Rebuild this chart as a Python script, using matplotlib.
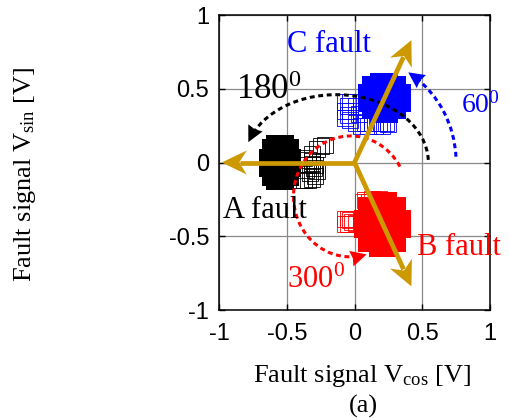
import numpy as np
import matplotlib
matplotlib.use("Agg")
import matplotlib.pyplot as plt
from matplotlib.patches import Arc, Polygon

plt.rcParams['mathtext.fontset'] = 'custom'
plt.rcParams['mathtext.rm'] = 'Liberation Serif'
plt.rcParams['mathtext.it'] = 'Liberation Serif:italic'
plt.rcParams['axes.unicode_minus'] = False

SERIF = 'Liberation Serif'
SANS = 'Liberation Sans'

# ---- fault signal trajectories (V_cos, V_sin) ----
# dense part of each trajectory (heavily overlapping samples)
a_core_x = [-0.50, -0.51, -0.547, -0.58, -0.60, -0.58, -0.547, -0.51]
a_core_y = [0.0, 0.065, 0.092, 0.065, 0.0, -0.065, -0.092, -0.065]
# sparse part (open squares)
a_trail_x = [-0.40, -0.37, -0.34, -0.31, -0.29, -0.28, -0.29, -0.31, -0.34,
             -0.37, -0.36, -0.33, -0.30, -0.31, -0.28, -0.25, -0.22, -0.34, -0.31]
a_trail_y = [-0.12, -0.12, -0.12, -0.11, -0.09, -0.06, -0.02, 0.01, 0.02,
             0.03, -0.05, -0.07, -0.04, 0.06, 0.09, 0.11, 0.12, -0.02, -0.01]

c_core_x = [0.31, 0.28, 0.22, 0.16, 0.13, 0.16, 0.22, 0.28, 0.22]
c_core_y = [0.44, 0.49, 0.515, 0.49, 0.44, 0.39, 0.365, 0.39, 0.44]
c_trail_x = [-0.07, -0.07, -0.07, -0.05, -0.05, -0.03, -0.03, -0.03, 0.01,
             0.01, 0.03, 0.05, 0.08, 0.10, 0.13, 0.15, 0.18, 0.20, 0.23, 0.25]
c_trail_y = [0.41, 0.35, 0.30, 0.38, 0.32, 0.41, 0.35, 0.29, 0.38,
             0.27, 0.33, 0.25, 0.27, 0.25, 0.27, 0.25, 0.27, 0.25, 0.27, 0.26]

b_core_x = [0.31, 0.28, 0.207, 0.13, 0.10, 0.13, 0.207, 0.28, 0.207]
b_core_y = [-0.42, -0.33, -0.295, -0.33, -0.42, -0.51, -0.545, -0.51, -0.42]
b_trail_x = [-0.07, -0.05, -0.07, -0.05, -0.03, -0.02, 0.01, 0.06, 0.08,
             0.11, 0.13, 0.16, 0.18, 0.20, 0.22]
b_trail_y = [-0.38, -0.38, -0.42, -0.42, -0.39, -0.40, -0.41, -0.27, -0.255,
             -0.27, -0.25, -0.27, -0.25, -0.27, -0.26]

# ---- phase vectors A, B, C ----
phasor_x = [-0.98, 0.42, 0.42]
phasor_y = [0.0, -0.84, 0.83]

# ---- rotation arcs: A (180), C (60), B (300) ----
arc_cx = [-0.135, 0.0, -0.03]
arc_cy = [0.0, 0.0, -0.23]
arc_rx = [0.68, 0.75, 0.42]
arc_ry = [0.46, 0.72, 0.41]
arc_t1 = [1.5, 3.0, 29.0]
arc_t2 = [168.0, 57.0, 287.0]

ticks = [-1, -0.5, 0, 0.5, 1]
tick_labels = ['-1', '-0.5', '0', '0.5', '1']

GOLD = '#CC9900'
BLUE = '#0000FF'
RED = '#FF0000'
arc_colors = ['black', BLUE, RED]

fig = plt.figure(figsize=(5.09, 4.19), dpi=100)
ax = fig.add_axes([219 / 509, 1 - 310 / 419, 271 / 509, 295 / 419])
ax.set_xlim(-1, 1)
ax.set_ylim(-1, 1)
ax.set_xticks(ticks)
ax.set_yticks(ticks)
ax.set_xticklabels(tick_labels, family=SANS, fontsize=17)
ax.set_yticklabels(tick_labels, family=SANS, fontsize=17)
ax.tick_params(direction='in', length=4, width=1, top=True, right=True,
               pad=7, colors='black')
ax.tick_params(axis='x', pad=9)
ax.grid(True, color='#8a8a8a', lw=0.9)
ax.set_axisbelow(True)
for s in ax.spines.values():
    s.set_linewidth(1.1)

# trajectories
for cx, cy, tx, ty, col in [(a_core_x, a_core_y, a_trail_x, a_trail_y, 'black'),
                            (c_core_x, c_core_y, c_trail_x, c_trail_y, BLUE),
                            (b_core_x, b_core_y, b_trail_x, b_trail_y, RED)]:
    ax.plot(tx, ty, 's', ms=11, mfc='none', mec=col, mew=0.6, zorder=2)
    ax.plot(cx, cy, 's', ms=20, mfc=col, mec=col, mew=0, zorder=3)


def draw_head(tip, prev, length, half_w, notch, color, z):
    tr = ax.transData
    t = tr.transform(tip)
    p = tr.transform(prev)
    u = t - p
    u = u / np.hypot(*u)
    n = np.array([-u[1], u[0]])
    pts = np.array([t, t - length * u + half_w * n,
                    t - notch * length * u, t - length * u - half_w * n])
    ax.add_patch(Polygon(tr.inverted().transform(pts), closed=True,
                         fc=color, ec='none', zorder=z))
    return tr.inverted().transform(t - 0.75 * length * u)


def ellipse_point(cx, cy, rx, ry, theta):
    th = np.deg2rad(theta)
    r = 1.0 / np.sqrt((np.cos(th) / rx) ** 2 + (np.sin(th) / ry) ** 2)
    return np.array([cx + r * np.cos(th), cy + r * np.sin(th)])


# rotation arcs with arrow heads
for cx, cy, rx, ry, t1, t2, col in zip(arc_cx, arc_cy, arc_rx, arc_ry,
                                       arc_t1, arc_t2, arc_colors):
    ax.add_patch(Arc((cx, cy), 2 * rx, 2 * ry, theta1=t1, theta2=t2 - 4,
                     color=col, lw=2.2, linestyle=(0, (1.6, 1.2)), zorder=4))
    tip = ellipse_point(cx, cy, rx, ry, t2)
    prev = ellipse_point(cx, cy, rx, ry, t2 - 4)
    draw_head(tip, prev, 16, 8, 0.9, col, 4)

# phase vectors
for px, py in zip(phasor_x, phasor_y):
    base = draw_head((px, py), (0, 0), 25, 12, 0.7, GOLD, 6)
    ax.plot([0, base[0]], [0, base[1]], color=GOLD, lw=3.4,
            solid_capstyle='butt', zorder=5)

# labels
ax.text(-0.495, 0.75, 'C fault', color=BLUE, family=SERIF, fontsize=22, zorder=7)
ax.text(-0.97, -0.376, 'A fault', color='black', family=SERIF, fontsize=22, zorder=7)
ax.text(0.458, -0.627, 'B fault', color=RED, family=SERIF, fontsize=22, zorder=7)
ax.text(-0.875, 0.43, r'180$^{0}$', color='black', family=SERIF, fontsize=25, zorder=7)
ax.text(0.787, 0.336, r'60$^{0}$', color=BLUE, family=SERIF, fontsize=20, zorder=7)
ax.text(-0.495, -0.851, r'300$^{0}$', color=RED, family=SERIF, fontsize=22, zorder=7)

fig.text(362.5 / 509, 1 - 382 / 419, r'Fault signal V$_{\mathrm{cos}}$ [V]',
         family=SERIF, fontsize=19, ha='center', va='baseline')
fig.text(363 / 509, 1 - 413 / 419, '(a)', family=SERIF, fontsize=19,
         ha='center', va='baseline')
fig.text(38 / 509, 1 - 175 / 419, r'Fault signal V$_{\mathrm{sin}}$ [V]',
         family=SERIF, fontsize=19, rotation=90, ha='right', va='center')

fig.savefig('out.png', dpi=100)
